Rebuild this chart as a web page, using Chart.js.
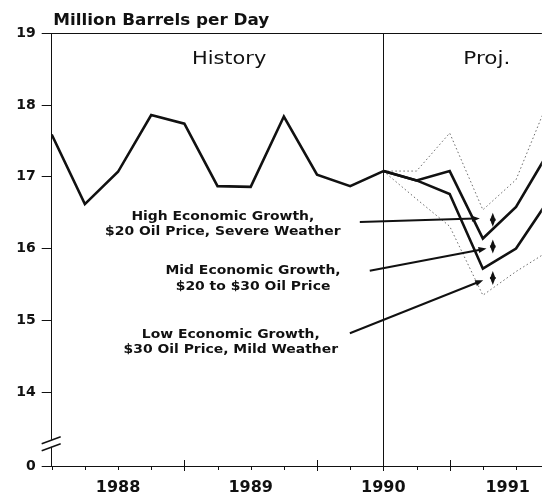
<!DOCTYPE html>
<html>
<head>
<meta charset="utf-8">
<script src="https://cdn.jsdelivr.net/npm/chart.js@4"></script>
<style>
  body { margin: 0; background: #fff; }
  canvas { display: block; }
</style>
</head>
<body>
<canvas id="oilChart" width="542" height="494"></canvas>
<script>
// quarters, counted from the start of 1988
const quarters = [0, 1, 2, 3, 4, 5, 6, 7, 8, 9, 10, 11, 12, 13, 14, 15];

// million barrels per day
const history    = [17.59, 16.62, 17.07, 17.86, 17.74, 16.87, 16.86, 17.84, 17.03, 16.87, 17.08, null, null, null, null, null];
const upperBase  = [null, null, null, null, null, null, null, null, null, null, 17.08, 16.95, 17.08, 16.14, 16.58, 17.36];
const lowerBase  = [null, null, null, null, null, null, null, null, null, null, 17.08, 16.95, 16.76, 15.72, 16.00, 16.69];
const upperRange = [null, null, null, null, null, null, null, null, null, null, 17.08, 17.08, 17.61, 16.54, 16.96, 18.09];
const lowerRange = [null, null, null, null, null, null, null, null, null, null, 17.08, 16.69, 16.31, 15.35, 15.68, 15.97];

const yTickValues = [12.97, 14, 15, 16, 17, 18, 19];
const yTickLabels = ['0', '14', '15', '16', '17', '18', '19'];
const xTickValues = [2, 6, 10, 13.75];
const xTickLabels = ['1988', '1989', '1990', '1991'];
const majorQuarters = [4, 8, 10, 12];

// annotation texts, in data units (quarter, value)
const noteText = [
    ['High Economic Growth,', '$20 Oil Price, Severe Weather'],
    ['Mid Economic Growth,', '$20 to $30 Oil Price'],
    ['Low Economic Growth,', '$30 Oil Price, Mild Weather']
];
const noteX = [5.16, 6.07, 5.40];
const noteY = [[16.44, 16.235], [15.687, 15.469], [14.795, 14.586]];
const arrowFrom = [[9.29, 16.37], [9.59, 15.69], [8.99, 14.82]];
const arrowTo = [[12.91, 16.42], [13.11, 16.00], [13.01, 15.56]];
const rangeMarkX = 13.3;
const rangeMarkY = [16.40, 16.03, 15.59];
const breakAt = 13.28;

const ink = '#111';

function toPoints(arr) {
    return quarters.map((q, i) => ({ x: q, y: arr[i] }));
}

function wideText(c, str, x, y, sx) {
    c.save();
    c.translate(x, y);
    c.scale(sx, 1);
    c.fillText(str, 0, 0);
    c.restore();
}

function arrowHead(c, x1, y1, x2, y2) {
    const a = Math.atan2(y2 - y1, x2 - x1);
    c.beginPath();
    c.moveTo(x2, y2);
    c.lineTo(x2 - 8 * Math.cos(a) + 3 * Math.sin(a), y2 - 8 * Math.sin(a) - 3 * Math.cos(a));
    c.lineTo(x2 - 8 * Math.cos(a) - 3 * Math.sin(a), y2 - 8 * Math.sin(a) + 3 * Math.cos(a));
    c.closePath();
    c.fill();
}

const extras = {
    id: 'extras',
    afterDraw(chart) {
        const c = chart.ctx;
        const xs = chart.scales.x, ys = chart.scales.y;
        const area = chart.chartArea;
        c.save();
        c.fillStyle = ink;
        c.strokeStyle = ink;

        // title
        c.font = 'bold 15px "DejaVu Sans"';
        c.textAlign = 'left';
        c.textBaseline = 'middle';
        wideText(c, 'Million Barrels per Day', area.left + 1.5, area.top - 12, 1.12);

        // period headings
        c.font = '17px "DejaVu Sans"';
        c.textAlign = 'center';
        wideText(c, 'History', xs.getPixelForValue(5.35), ys.getPixelForValue(18.64), 1.23);
        wideText(c, 'Proj.', xs.getPixelForValue(13.12), ys.getPixelForValue(18.64), 1.27);

        // scenario notes
        c.font = 'bold 12px "DejaVu Sans"';
        noteText.forEach((lines, i) => {
            lines.forEach((t, j) => {
                wideText(c, t, xs.getPixelForValue(noteX[i]), ys.getPixelForValue(noteY[i][j]), 1.16);
            });
        });

        // arrows
        c.lineWidth = 2;
        arrowFrom.forEach((p, i) => {
            const x1 = xs.getPixelForValue(p[0]), y1 = ys.getPixelForValue(p[1]);
            const x2 = xs.getPixelForValue(arrowTo[i][0]), y2 = ys.getPixelForValue(arrowTo[i][1]);
            const a = Math.atan2(y2 - y1, x2 - x1);
            c.beginPath();
            c.moveTo(x1, y1);
            c.lineTo(x2 - 5 * Math.cos(a), y2 - 5 * Math.sin(a));
            c.stroke();
            arrowHead(c, x1, y1, x2, y2);
        });

        // small double arrows
        const mx = xs.getPixelForValue(rangeMarkX);
        rangeMarkY.forEach(v => {
            const my = ys.getPixelForValue(v);
            c.lineWidth = 2;
            c.beginPath();
            c.moveTo(mx, my - 4);
            c.lineTo(mx, my + 4);
            c.stroke();
            arrowHead(c, mx, my, mx, my - 7);
            arrowHead(c, mx, my, mx, my + 7);
        });

        // quarter tick marks
        c.lineWidth = 1;
        const by = area.bottom;
        for (let q = 0; q <= 14; q++) {
            const px = Math.round(xs.getPixelForValue(q)) + 0.5;
            const major = majorQuarters.includes(q);
            c.beginPath();
            c.moveTo(px, major && q !== 10 ? by - 6 : by);
            c.lineTo(px, by + (major ? 5 : 4));
            c.stroke();
        }

        // axis break
        const yb = ys.getPixelForValue(breakAt);
        const ax = area.left;
        c.fillStyle = '#fff';
        c.beginPath();
        c.moveTo(ax - 3, yb + 4);
        c.lineTo(ax + 3, yb + 2);
        c.lineTo(ax + 3, yb - 5);
        c.lineTo(ax - 3, yb - 3);
        c.closePath();
        c.fill();
        c.lineWidth = 1.4;
        [yb + 3.5, yb - 3.5].forEach(y0 => {
            c.beginPath();
            c.moveTo(ax - 10, y0 + 3.5);
            c.lineTo(ax + 9, y0 - 3.5);
            c.stroke();
        });
        c.restore();
    }
};

const solid = { borderColor: ink, borderWidth: 2.6, pointRadius: 0, tension: 0, borderJoinStyle: 'miter', fill: false };
const dotted = { borderColor: '#6a6a6a', borderWidth: 1, borderDash: [1.5, 2.5], pointRadius: 0, tension: 0, fill: false };

new Chart(document.getElementById('oilChart'), {
    type: 'line',
    data: {
        datasets: [
            Object.assign({ label: 'History', data: toPoints(history) }, solid),
            Object.assign({ label: 'Upper base', data: toPoints(upperBase) }, solid),
            Object.assign({ label: 'Lower base', data: toPoints(lowerBase) }, solid),
            Object.assign({ label: 'Upper range', data: toPoints(upperRange) }, dotted),
            Object.assign({ label: 'Lower range', data: toPoints(lowerRange) }, dotted)
        ]
    },
    options: {
        responsive: false,
        animation: false,
        devicePixelRatio: 1,
        layout: { padding: { top: 33.3, left: 0, right: 0, bottom: 0 } },
        plugins: {
            legend: { display: false },
            title: { display: false },
            tooltip: { enabled: false }
        },
        scales: {
            x: {
                type: 'linear',
                min: 0,
                max: 14.78,
                afterFit: (scale) => { scale.height = 28; },
                afterBuildTicks: (scale) => { scale.ticks = xTickValues.map(v => ({ value: v })); },
                ticks: {
                    padding: 12,
                    color: ink,
                    maxRotation: 0,
                    autoSkip: false,
                    font: { family: 'DejaVu Sans', weight: 'bold', size: 16 },
                    callback: (v, i) => xTickLabels[i]
                },
                grid: {
                    drawTicks: false,
                    lineWidth: 1,
                    color: (ctx) => (ctx.tick && ctx.tick.value === 10 ? ink : 'rgba(0,0,0,0)')
                },
                border: { display: true, color: ink, width: 1 }
            },
            y: {
                type: 'linear',
                min: 12.97,
                max: 19,
                afterFit: (scale) => { scale.width = 51.7; },
                afterBuildTicks: (scale) => { scale.ticks = yTickValues.map(v => ({ value: v })); },
                ticks: {
                    padding: 6,
                    color: ink,
                    autoSkip: false,
                    font: { family: 'DejaVu Sans', weight: 'bold', size: 14 },
                    callback: (v, i) => yTickLabels[i]
                },
                grid: {
                    tickLength: 10,
                    tickColor: ink,
                    lineWidth: 1,
                    color: (ctx) => (ctx.tick && ctx.tick.value === 19 ? ink : 'rgba(0,0,0,0)')
                },
                border: { display: true, color: ink, width: 1 }
            }
        }
    },
    plugins: [extras]
});
</script>
</body>
</html>
